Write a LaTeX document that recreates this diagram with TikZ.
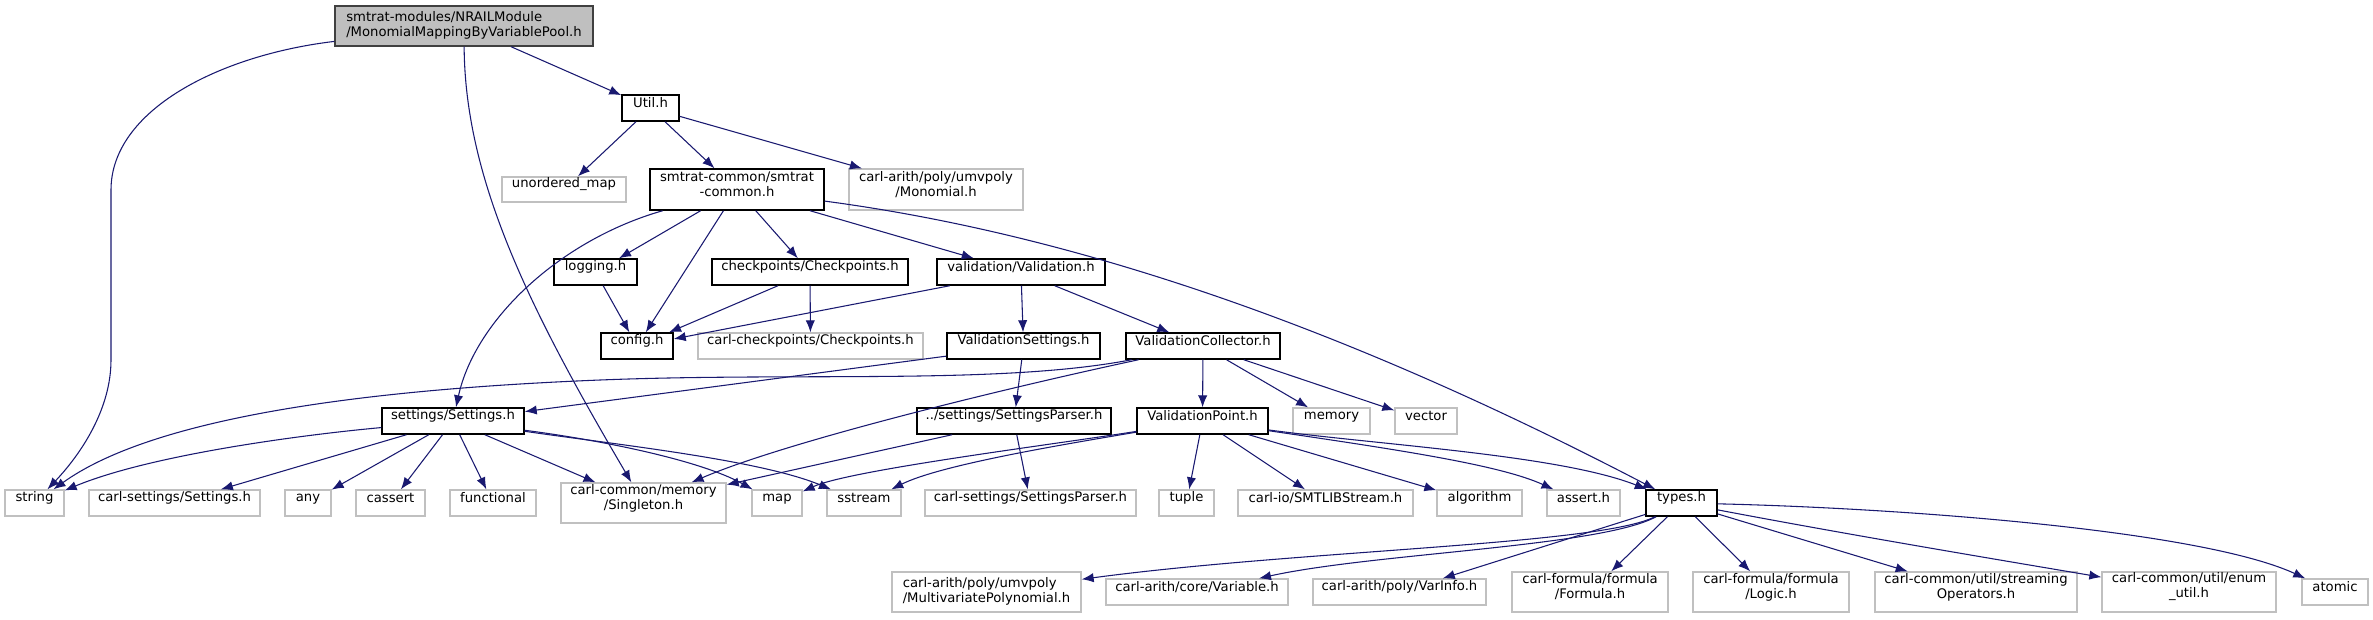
\documentclass[tikz,border=0pt]{standalone}
\usepackage{fontspec}
\setmainfont{DejaVu Sans}
\usetikzlibrary{arrows.meta,fit}
\definecolor{edgeblue}{HTML}{191970}
\definecolor{extgray}{HTML}{C0C0C0}
\definecolor{rootfill}{HTML}{BFBFBF}
\begin{document}
\begin{tikzpicture}[x=0.75pt,y=-0.75pt,
 base/.style={rectangle, inner sep=0pt, font=\fontsize{9.9pt}{11.25pt}\selectfont},
 doc/.style={base, draw=black, line width=1.1pt},
 ext/.style={base, draw=extgray, line width=1pt},
 rootbox/.style={base, draw=black!75, fill=rootfill, line width=1.1pt},
 edge/.style={draw=edgeblue, line width=0.8pt, -{Latex[length=9pt,width=7pt]}},
]
\useasboundingbox (0,0) rectangle (2373,619);
% nodes
\node[rootbox, minimum width=193.5pt, minimum height=30pt] (root) at (464,26) {\begin{tabular}{@{}l@{}}smtrat-modules/NRAILModule\\/MonomialMappingByVariablePool.h\end{tabular}};
\node[doc, fit={(622,95) (679,121)}] (util) {Util.h};
\node[ext, fit={(502,177) (626,202)}] (umap) {unordered\_map};
\node[doc, fit={(650,169) (824,210)}, align=center] (smtrat) {smtrat-common/smtrat\\-common.h};
\node[ext, fit={(849,169) (1023,210)}, align=center] (monomial) {carl-arith/poly/umvpoly\\/Monomial.h};
\node[doc, fit={(554,259) (637,285)}] (logging) {logging.h};
\node[doc, fit={(712,259) (908,285)}] (checkpoints) {checkpoints/Checkpoints.h};
\node[doc, fit={(937,259) (1105,285)}] (validation) {validation/Validation.h};
\node[doc, fit={(601,333) (673,359)}] (config) {config.h};
\node[ext, fit={(698,333) (923,359)}] (carlcp) {carl-checkpoints/Checkpoints.h};
\node[doc, fit={(947,333) (1100,359)}] (vsettings) {ValidationSettings.h};
\node[doc, fit={(1126,333) (1280,359)}] (vcollector) {ValidationCollector.h};
\node[doc, fit={(382,408) (524,434)}] (settings) {settings/Settings.h};
\node[doc, fit={(917,408) (1111,434)}] (sparser) {../settings/SettingsParser.h};
\node[doc, fit={(1137,408) (1268,434)}] (vpoint) {ValidationPoint.h};
\node[ext, fit={(1293,408) (1370,434)}] (memory) {memory};
\node[ext, fit={(1395,408) (1457,434)}] (vector) {vector};
\node[ext, fit={(5,490) (64,516)}] (string) {string};
\node[ext, fit={(89,490) (260,516)}] (carlsettings) {carl-settings/Settings.h};
\node[ext, fit={(285,490) (331,516)}] (any) {any};
\node[ext, fit={(356,490) (425,516)}] (cassert) {cassert};
\node[ext, fit={(450,490) (536,516)}] (functional) {functional};
\node[ext, fit={(561,483) (726,523)}, align=center] (singleton) {carl-common/memory\\/Singleton.h};
\node[ext, fit={(752,490) (802,516)}] (map) {map};
\node[ext, fit={(827,490) (901,516)}] (sstream) {sstream};
\node[ext, fit={(925,490) (1136,516)}] (carlsp) {carl-settings/SettingsParser.h};
\node[ext, fit={(1159,490) (1214,516)}] (tuple) {tuple};
\node[ext, fit={(1238,490) (1413,516)}] (smtlib) {carl-io/SMTLIBStream.h};
\node[ext, fit={(1437,490) (1522,516)}] (algorithm) {algorithm};
\node[ext, fit={(1547,490) (1620,516)}] (assert) {assert.h};
\node[doc, fit={(1646,490) (1717,516)}] (types) {types.h};
\node[ext, minimum width=141.75pt, minimum height=30pt] (mvpoly) at (986.5,592) {\begin{tabular}{@{}l@{}}carl-arith/poly/umvpoly\\/MultivariatePolynomial.h\end{tabular}};
\node[ext, fit={(1106,579) (1288,605)}] (variable) {carl-arith/core/Variable.h};
\node[ext, fit={(1313,579) (1486,605)}] (varinfo) {carl-arith/poly/VarInfo.h};
\node[ext, fit={(1512,572) (1668,612)}, align=center] (formula) {carl-formula/formula\\/Formula.h};
\node[ext, fit={(1693,572) (1849,612)}, align=center] (logic) {carl-formula/formula\\/Logic.h};
\node[ext, fit={(1875,572) (2077,612)}, align=center] (streaming) {carl-common/util/streaming\\Operators.h};
\node[ext, fit={(2102,572) (2276,612)}, align=center] (enumutil) {carl-common/util/enum\\\_util.h};
\node[ext, fit={(2302,579) (2368,605)}] (atomic) {atomic};
% edges from root
\draw[edge] (root) .. controls (220,55) and (111,110) .. (111,190) -- (111,360) .. controls (111,410) and (80,455) .. (string);
\draw[edge] (root) .. controls (465,180) and (530,310) .. (singleton);
\draw[edge] (root) -- (util);
% Util
\draw[edge] (util) -- (umap);
\draw[edge] (util) -- (smtrat);
\draw[edge] (util) -- (monomial);
% smtrat-common
\draw[edge] (smtrat) .. controls (560,240) and (475,320) .. (settings);
\draw[edge] (smtrat) -- (logging);
\draw[edge] (smtrat) -- (config);
\draw[edge] (smtrat) -- (checkpoints);
\draw[edge] (smtrat) -- (validation);
\draw[edge] (smtrat) .. controls (1080,235) and (1350,330) .. (types);
% logging, checkpoints, validation
\draw[edge] (logging) -- (config);
\draw[edge] (checkpoints) -- (config);
\draw[edge] (checkpoints) -- (carlcp);
\draw[edge] (validation) -- (config);
\draw[edge] (validation) -- (vsettings);
\draw[edge] (validation) -- (vcollector);
% ValidationSettings
\draw[edge] (vsettings) -- (settings);
\draw[edge] (vsettings) -- (sparser);
% ValidationCollector
\draw[edge] (vcollector) .. controls (1000,385) and (800,372) .. (600,380) .. controls (350,390) and (150,420) .. (string);
\draw[edge] (vcollector) .. controls (1020,385) and (790,440) .. (singleton);
\draw[edge] (vcollector) -- (vpoint);
\draw[edge] (vcollector) -- (memory);
\draw[edge] (vcollector) -- (vector);
% Settings.h
\draw[edge] (settings) .. controls (300,435) and (150,455) .. (string);
\draw[edge] (settings) -- (carlsettings);
\draw[edge] (settings) -- (any);
\draw[edge] (settings) -- (cassert);
\draw[edge] (settings) -- (functional);
\draw[edge] (settings) -- (singleton);
\draw[edge] (settings) .. controls (600,440) and (700,460) .. (map);
\draw[edge] (settings) .. controls (620,445) and (760,460) .. (sstream);
% SettingsParser
\draw[edge] (sparser) -- (singleton);
\draw[edge] (sparser) -- (carlsp);
% ValidationPoint
\draw[edge] (vpoint) .. controls (1050,445) and (850,470) .. (map);
\draw[edge] (vpoint) .. controls (1060,445) and (940,465) .. (sstream);
\draw[edge] (vpoint) -- (tuple);
\draw[edge] (vpoint) -- (smtlib);
\draw[edge] (vpoint) -- (algorithm);
\draw[edge] (vpoint) .. controls (1400,450) and (1500,465) .. (assert);
\draw[edge] (vpoint) .. controls (1380,445) and (1560,455) .. (types);
% types.h
\draw[edge] (types) .. controls (1600,545) and (1300,550) .. (mvpoly);
\draw[edge] (types) .. controls (1600,547) and (1374,553) .. (variable);
\draw[edge] (types) -- (varinfo);
\draw[edge] (types) -- (formula);
\draw[edge] (types) -- (logic);
\draw[edge] (types) -- (streaming);
\draw[edge] (types) .. controls (1850,535) and (2000,560) .. (enumutil);
\draw[edge] (types) .. controls (1900,508) and (2200,530) .. (atomic);
\end{tikzpicture}
\end{document}
